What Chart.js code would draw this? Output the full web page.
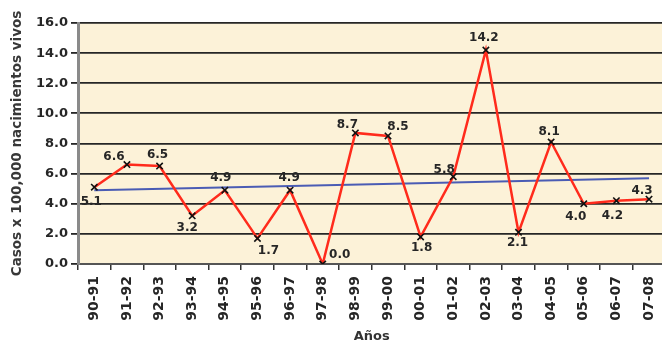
<!DOCTYPE html>
<html>
<head>
<meta charset="utf-8">
<script src="https://cdn.jsdelivr.net/npm/chart.js@4"></script>
<style>
  html, body { margin: 0; padding: 0; background: #fff; overflow: hidden; }
  #wrap { position: absolute; left: 0; top: 0; width: 672px; height: 343px; }
</style>
</head>
<body>
<div id="wrap"><canvas id="chart" width="672" height="343"></canvas></div>
<script>
// temporadas
const years = ['90-91', '91-92', '92-93', '93-94', '94-95', '95-96', '96-97', '97-98', '98-99',
    '99-00', '00-01', '01-02', '02-03', '03-04', '04-05', '05-06', '06-07', '07-08'];
// casos x 100,000 nacimientos vivos
const rates = [5.1, 6.6, 6.5, 3.2, 4.9, 1.7, 4.9, 0.0, 8.7, 8.5, 1.8, 5.8, 14.2, 2.1, 8.1, 4.0, 4.2, 4.3];
// linea de tendencia (extremos)
const trend = [4.9, null, null, null, null, null, null, null, null,
    null, null, null, null, null, null, null, null, 5.7];
const yTicks = [0, 2, 4, 6, 8, 10, 12, 14, 16];

const font = 'DejaVu Sans';

// fondo crema del area de trazado
let plotBg = {
    id: 'plotBg',
    beforeDraw: function (chart) {
        let a = chart.chartArea;
        let ctx = chart.ctx;
        ctx.save();
        ctx.fillStyle = '#fcf2d8';
        ctx.fillRect(a.left, a.top, a.right - a.left, a.bottom - a.top);
        ctx.restore();
    }
};

// etiquetas de valor junto a cada punto
let valueLabels = {
    id: 'valueLabels',
    afterDatasetsDraw: function (chart) {
        // desplazamientos [dx, dy] de cada etiqueta respecto al punto
        let offs = [[-3, 15], [-13, -8], [-2, -11], [-5, 12], [-4, -12], [11, 12], [-1, -12], [17, -9],
            [-8, -8], [10, -9], [1, 11], [-9, -7], [-2, -12], [-1, 11], [-2, -10], [-8, 13], [-4, 15], [-7, -8]];
        let meta = chart.getDatasetMeta(0);
        let ctx = chart.ctx;
        ctx.save();
        ctx.font = 'bold 12px "' + font + '"';
        ctx.fillStyle = '#262626';
        ctx.textAlign = 'center';
        ctx.textBaseline = 'middle';
        meta.data.forEach(function (pt, i) {
            ctx.fillText(rates[i].toFixed(1), pt.x + offs[i][0], pt.y + offs[i][1]);
        });
        ctx.restore();
    }
};

let ctx = document.getElementById('chart').getContext('2d');
let chart = new Chart(ctx, {
    type: 'line',
    data: {
        labels: years,
        datasets: [
            {
                label: 'Casos',
                data: rates,
                borderColor: '#ff2b1c',
                borderWidth: 2.5,
                pointStyle: 'crossRot',
                pointRadius: 4.5,
                pointBorderColor: '#111',
                pointBorderWidth: 1.6,
                tension: 0,
                order: 1
            },
            {
                label: 'Tendencia',
                data: trend,
                borderColor: '#4a5cb4',
                borderWidth: 2,
                pointRadius: 0,
                spanGaps: true,
                order: 2
            }
        ]
    },
    options: {
        responsive: false,
        animation: false,
        layout: { padding: { left: 9, right: 5, top: 23, bottom: 0 } },
        plugins: {
            legend: { display: false },
            tooltip: { enabled: false }
        },
        scales: {
            x: {
                offset: true,
                grid: {
                    offset: true,
                    drawOnChartArea: false,
                    drawTicks: true,
                    tickLength: 6,
                    color: '#333',
                    lineWidth: 1.5
                },
                border: { color: '#555', width: 2 },
                ticks: {
                    minRotation: 90,
                    maxRotation: 90,
                    autoSkip: false,
                    padding: 6,
                    color: '#262626',
                    font: { family: font, size: 14, weight: 'bold' }
                },
                title: {
                    display: true,
                    text: 'Años',
                    color: '#333',
                    padding: { top: 0, bottom: 0 },
                    font: { family: font, size: 13, weight: 'bold', lineHeight: 1 }
                },
                afterFit: function (scale) { scale.height = 79; }
            },
            y: {
                min: 0,
                max: 16,
                afterBuildTicks: function (scale) {
                    scale.ticks = yTicks.map(function (v) { return { value: v }; });
                },
                grid: {
                    color: '#262626',
                    lineWidth: 1.8,
                    tickLength: 7
                },
                border: { color: '#8a8a8a', width: 3 },
                ticks: {
                    padding: 3,
                    color: '#262626',
                    font: { family: font, size: 13, weight: 'bold' },
                    callback: function (v) { return Number(v).toFixed(1); }
                },
                title: {
                    display: true,
                    text: 'Casos x 100,000 nacimientos vivos',
                    color: '#383838',
                    padding: { top: 0, bottom: 0 },
                    font: { family: font, size: 13.5, weight: 'bold' }
                },
                afterFit: function (scale) { scale.width = 69; }
            }
        }
    },
    plugins: [plotBg, valueLabels]
});
</script>
</body>
</html>
